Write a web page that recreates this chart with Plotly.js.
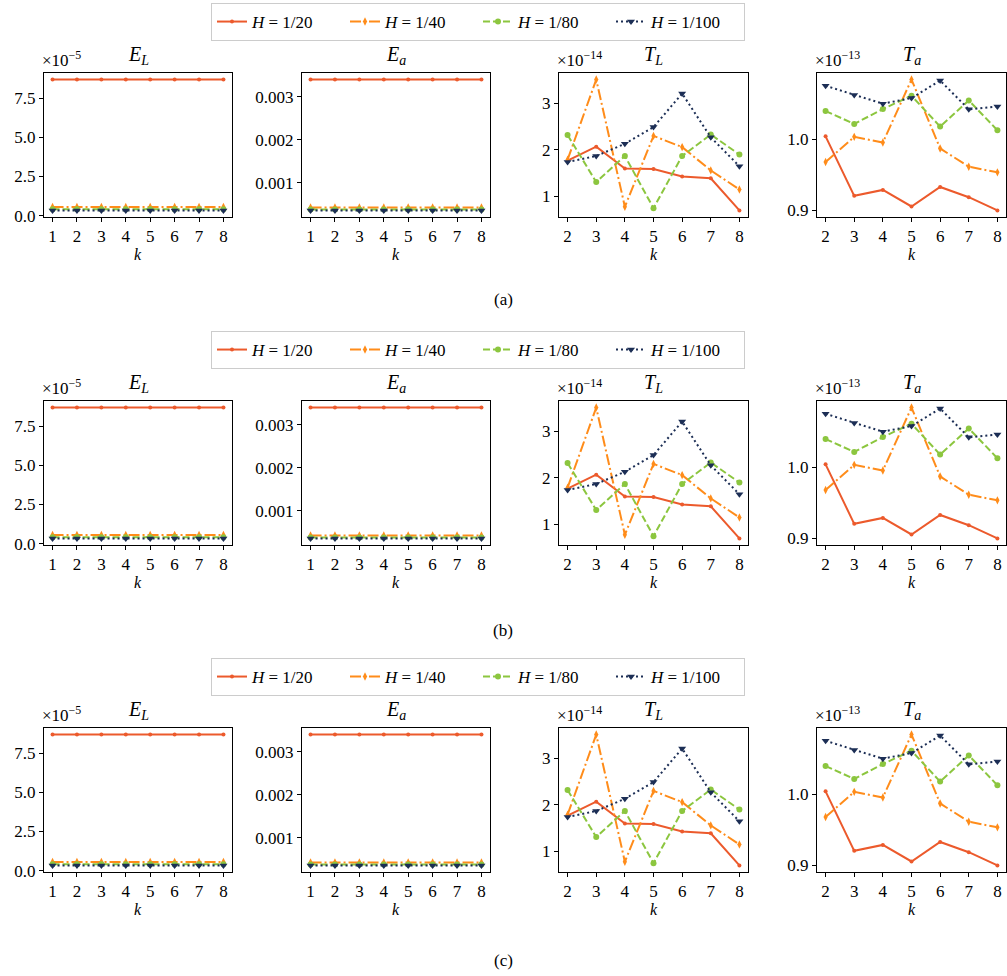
<!DOCTYPE html>
<html><head><meta charset="utf-8">
<script src="https://cdn.plot.ly/plotly-3.0.1.min.js"></script>
<style>html,body{margin:0;padding:0;background:#fff}</style></head>
<body>
<div id="chart" style="width:1007px;height:976px"></div>
<script>
// ---------------- data ----------------
const seriesLabels = ['<i>H</i> = 1/20', '<i>H</i> = 1/40', '<i>H</i> = 1/80', '<i>H</i> = 1/100'];
const kE = [1, 2, 3, 4, 5, 6, 7, 8];
const kT = [2, 3, 4, 5, 6, 7, 8];
// E_L (x 1e-5)
const EL_H20  = [8.70, 8.70, 8.70, 8.70, 8.70, 8.70, 8.70, 8.70];
const EL_H40  = [0.55, 0.55, 0.55, 0.55, 0.55, 0.55, 0.55, 0.55];
const EL_H80  = [0.40, 0.40, 0.40, 0.40, 0.40, 0.40, 0.40, 0.40];
const EL_H100 = [0.33, 0.33, 0.33, 0.33, 0.33, 0.33, 0.33, 0.33];
// E_a
const Ea_H20  = [0.00340, 0.00340, 0.00340, 0.00340, 0.00340, 0.00340, 0.00340, 0.00340];
const Ea_H40  = [0.000426, 0.000426, 0.000426, 0.000426, 0.000426, 0.000426, 0.000426, 0.000426];
const Ea_H80  = [0.000380, 0.000380, 0.000380, 0.000380, 0.000380, 0.000380, 0.000380, 0.000380];
const Ea_H100 = [0.000357, 0.000357, 0.000357, 0.000357, 0.000357, 0.000357, 0.000357, 0.000357];
// T_L (x 1e-14)
const TL_H20  = [1.77, 2.07, 1.60, 1.59, 1.43, 1.39, 0.70];
const TL_H40  = [1.79, 3.51, 0.78, 2.30, 2.06, 1.56, 1.15];
const TL_H80  = [2.32, 1.31, 1.87, 0.75, 1.87, 2.33, 1.90];
const TL_H100 = [1.74, 1.87, 2.13, 2.49, 3.21, 2.27, 1.65];
// T_a (x 1e-13)
const Ta_H20  = [1.004, 0.9205, 0.9288, 0.9056, 0.9330, 0.9186, 0.900];
const Ta_H40  = [0.968, 1.0033, 0.9953, 1.0837, 0.987, 0.9614, 0.9535];
const Ta_H80  = [1.0395, 1.0214, 1.0423, 1.0609, 1.0177, 1.0544, 1.0126];
const Ta_H100 = [1.0749, 1.0619, 1.0498, 1.0577, 1.0823, 1.0419, 1.046];

const panelTitles = ['<i>E</i><sub><i>L</i></sub>', '<i>E</i><sub><i>a</i></sub>', '<i>T</i><sub><i>L</i></sub>', '<i>T</i><sub><i>a</i></sub>'];
const panelExp = ['×10<sup>−5</sup>', '', '×10<sup>−14</sup>', '×10<sup>−13</sup>'];
const panelTickVals = [[0, 2.5, 5, 7.5], [0.001, 0.002, 0.003], [1, 2, 3], [0.9, 1.0]];
const panelTickText = [['0.0', '2.5', '5.0', '7.5'], ['0.001', '0.002', '0.003'], ['1', '2', '3'], ['0.9', '1.0']];
const rowLabels = ['(a)', '(b)', '(c)'];

// ---------------- styles ----------------
const W = 1007, H = 976;
const FONT = 'Liberation Serif, Times New Roman, serif';
const colors = ['#EC5A2C', '#FF8C1A', '#8CC63F', '#1C2E55'];
const dashes = ['solid', '11px,3px,2px,3px', '7px,3px', '2px,3px'];
const symbols = ['circle', 'diamond-tall', 'circle', 'triangle-down'];
const msizes = [4, 6, 6, 7];
const colX = [[44, 232], [302, 490], [559, 748], [817, 1006]];
const rowY = [[73, 217], [401, 545], [728, 872]];
const legendTop = [3, 331, 658];
const labelY = [300, 630, 960];

const px = v => v / W;
const py = v => 1 - v / H;

const panels = [
  {x: kE, ys: [EL_H20, EL_H40, EL_H80, EL_H100]},
  {x: kE, ys: [Ea_H20, Ea_H40, Ea_H80, Ea_H100]},
  {x: kT, ys: [TL_H20, TL_H40, TL_H80, TL_H100]},
  {x: kT, ys: [Ta_H20, Ta_H40, Ta_H80, Ta_H100]}
];

function padRange(arrs) {
  const all = [].concat(...arrs);
  const mn = Math.min(...all), mx = Math.max(...all);
  const s = mx - mn;
  return [mn - 0.05 * s, mx + 0.05 * s];
}

const traces = [];
const layout = {
  width: W, height: H,
  margin: {l: 0, r: 0, t: 0, b: 0},
  paper_bgcolor: '#fff', plot_bgcolor: '#fff',
  font: {family: FONT, color: '#000', size: 16},
  showlegend: true,
  annotations: []
};

let idx = 0;
for (let r = 0; r < 3; r++) {
  const legName = r === 0 ? 'legend' : 'legend' + (r + 1);
  layout[legName] = {
    orientation: 'h',
    x: px(211), xanchor: 'left',
    y: py(legendTop[r]), yanchor: 'top',
    bgcolor: '#fff', bordercolor: '#CCCCCC', borderwidth: 1,
    font: {family: FONT, size: 17, color: '#000'},
    entrywidth: 88, entrywidthmode: 'pixels',
    tracegroupgap: 0
  };
  for (let c = 0; c < 4; c++) {
    idx++;
    const sfx = idx === 1 ? '' : String(idx);
    const p = panels[c];
    for (let s = 0; s < 4; s++) {
      traces.push({
        type: 'scatter', mode: 'lines+markers',
        x: p.x, y: p.ys[s],
        name: seriesLabels[s],
        xaxis: 'x' + sfx, yaxis: 'y' + sfx,
        legend: legName,
        showlegend: c === 0,
        line: {color: colors[s], width: 2, dash: dashes[s]},
        marker: {symbol: symbols[s], size: msizes[s], color: colors[s], line: {width: 0}}
      });
    }
    const xr = [Math.min(...p.x) - 0.05 * (Math.max(...p.x) - Math.min(...p.x)),
                Math.max(...p.x) + 0.05 * (Math.max(...p.x) - Math.min(...p.x))];
    const common = {
      showline: true, mirror: true, linecolor: '#000', linewidth: 1,
      ticks: 'outside', ticklen: 4, tickwidth: 1, tickcolor: '#000',
      showgrid: false, zeroline: false,
      tickfont: {family: FONT, size: 17, color: '#000'}
    };
    layout['xaxis' + sfx] = Object.assign({}, common, {
      domain: [px(colX[c][0]), px(colX[c][1])],
      anchor: 'y' + sfx, range: xr,
      tickmode: 'array', tickvals: p.x, ticktext: p.x.map(String)
    });
    layout['yaxis' + sfx] = Object.assign({}, common, {
      domain: [py(rowY[r][1]), py(rowY[r][0])],
      anchor: 'x' + sfx, range: padRange(p.ys),
      tickmode: 'array', tickvals: panelTickVals[c], ticktext: panelTickText[c]
    });
    const cx = (colX[c][0] + colX[c][1]) / 2;
    layout.annotations.push({
      text: panelTitles[c], xref: 'paper', yref: 'paper',
      x: px(cx), y: py(rowY[r][0] - 3), xanchor: 'center', yanchor: 'bottom',
      showarrow: false, font: {family: FONT, size: 20, color: '#000'}
    });
    if (panelExp[c]) {
      layout.annotations.push({
        text: panelExp[c], xref: 'paper', yref: 'paper',
        x: px(colX[c][0] - 4), y: py(rowY[r][0] - 1), xanchor: 'left', yanchor: 'bottom',
        showarrow: false, font: {family: FONT, size: 17, color: '#000'}
      });
    }
    layout.annotations.push({
      text: '<i>k</i>', xref: 'paper', yref: 'paper',
      x: px(cx), y: py(rowY[r][1] + 27), xanchor: 'center', yanchor: 'top',
      showarrow: false, font: {family: FONT, size: 16, color: '#000'}
    });
  }
  layout.annotations.push({
    text: rowLabels[r], xref: 'paper', yref: 'paper',
    x: px(503), y: py(labelY[r]), xanchor: 'center', yanchor: 'middle',
    showarrow: false, font: {family: FONT, size: 17, color: '#000'}
  });
}

Plotly.newPlot('chart', traces, layout, {displayModeBar: false, staticPlot: true});
</script>
</body></html>
